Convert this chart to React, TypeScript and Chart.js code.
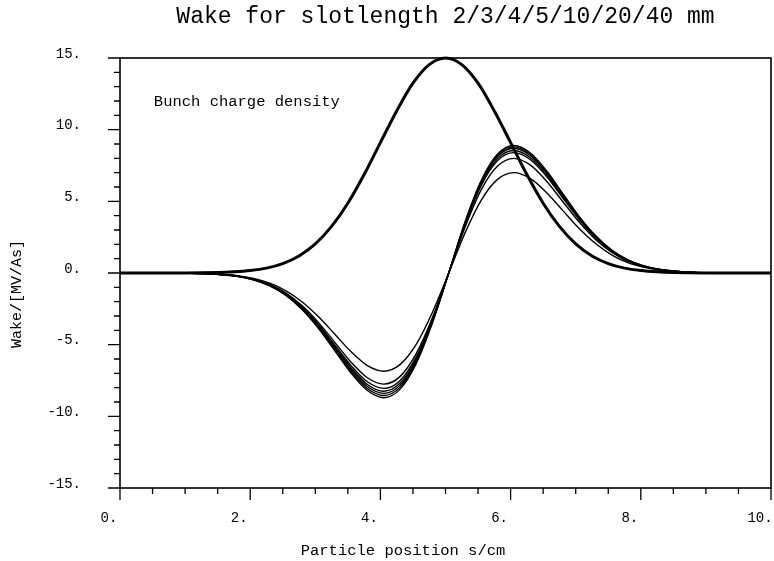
import { useEffect, useRef } from "react";
import { Chart, registerables } from "chart.js";

Chart.register(...registerables);

// ---------- data ----------
const titleText = "Wake for slotlength 2/3/4/5/10/20/40 mm";
const xAxisTitle = "Particle position s/cm";
const yAxisTitle = "Wake/[MV/As]";
const annotationText = "Bunch charge density";

const yTickLabelsEvery = 5;
const xTickLabelsEvery = 2;

// bunch charge density
const bunchS = [
  0, 0.5, 1.0, 1.5, 1.75, 2.0, 2.25, 2.5, 2.75, 3.0, 3.25, 3.5, 3.75, 4.0, 4.25, 4.5, 4.75, 5.0,
  5.25, 5.5, 5.75, 6.0, 6.25, 6.5, 6.75, 7.0, 7.25, 7.5, 7.75, 8.0, 8.25, 8.5, 9.0, 9.5, 10.0,
];
const bunchDensity = [
  0, 0, 0, 0.03, 0.08, 0.17, 0.34, 0.66, 1.19, 2.03, 3.25, 4.87, 6.87, 9.1, 11.3, 13.24, 14.54, 15.0,
  14.54, 13.24, 11.3, 9.1, 6.87, 4.87, 3.25, 2.03, 1.19, 0.66, 0.34, 0.17, 0.08, 0.03, 0, 0, 0,
];

// wake positions
const wakeS = [
  0, 0.5, 1.0, 1.3, 1.55, 1.8, 2.05, 2.3, 2.55, 2.8, 3.05, 3.3, 3.55, 3.8, 4.05, 4.3, 4.55, 4.8, 5.05,
  5.3, 5.55, 5.8, 6.05, 6.3, 6.55, 6.8, 7.05, 7.3, 7.55, 7.8, 8.05, 8.3, 8.55, 8.8, 9.05, 9.5, 10.0,
];
const wake40mm = [
  0, 0, -0.02, -0.04, -0.11, -0.23, -0.48, -0.9, -1.57, -2.57, -3.88, -5.43, -6.99, -8.2, -8.7, -8.12, -6.32, -3.48, 0,
  3.56, 6.47, 8.3, 8.9, 8.39, 7.15, 5.55, 3.97, 2.63, 1.61, 0.92, 0.49, 0.24, 0.12, 0.04, 0.02, 0, 0,
];
const wake20mm = [
  0, 0, -0.02, -0.04, -0.11, -0.23, -0.47, -0.88, -1.55, -2.52, -3.81, -5.34, -6.87, -8.06, -8.55, -7.98, -6.22, -3.42, 0,
  3.52, 6.4, 8.21, 8.8, 8.3, 7.07, 5.49, 3.92, 2.6, 1.59, 0.91, 0.48, 0.24, 0.11, 0.04, 0.02, 0, 0,
];
const wake10mm = [
  0, 0, -0.02, -0.04, -0.11, -0.23, -0.46, -0.87, -1.52, -2.48, -3.75, -5.24, -6.75, -7.92, -8.4, -7.84, -6.11, -3.36, 0,
  3.48, 6.32, 8.12, 8.7, 8.2, 6.99, 5.43, 3.88, 2.57, 1.57, 0.9, 0.48, 0.23, 0.11, 0.04, 0.02, 0, 0,
];
const wake5mm = [
  0, 0, -0.02, -0.04, -0.11, -0.22, -0.45, -0.85, -1.49, -2.43, -3.68, -5.15, -6.62, -7.78, -8.25, -7.7, -6.0, -3.3, 0,
  3.42, 6.22, 7.98, 8.55, 8.06, 6.87, 5.34, 3.81, 2.52, 1.55, 0.88, 0.47, 0.23, 0.11, 0.04, 0.02, 0, 0,
];
const wake4mm = [
  0, 0, -0.02, -0.04, -0.1, -0.22, -0.44, -0.83, -1.46, -2.37, -3.59, -5.02, -6.46, -7.59, -8.05, -7.51, -5.85, -3.22, 0,
  3.36, 6.11, 7.84, 8.4, 7.92, 6.75, 5.24, 3.75, 2.48, 1.52, 0.87, 0.46, 0.23, 0.11, 0.04, 0.02, 0, 0,
];
const wake3mm = [
  0, 0, -0.02, -0.04, -0.1, -0.21, -0.43, -0.8, -1.4, -2.29, -3.46, -4.84, -6.22, -7.31, -7.75, -7.23, -5.63, -3.1, 0,
  3.2, 5.82, 7.46, 8.0, 7.54, 6.42, 4.99, 3.57, 2.36, 1.45, 0.82, 0.44, 0.22, 0.1, 0.04, 0.02, 0, 0,
];
const wake2mm = [
  0, 0, -0.01, -0.03, -0.09, -0.18, -0.38, -0.71, -1.24, -2.02, -3.06, -4.27, -5.5, -6.46, -6.85, -6.39, -4.98, -2.74, 0,
  2.8, 5.09, 6.53, 7.0, 6.6, 5.62, 4.37, 3.12, 2.07, 1.27, 0.72, 0.39, 0.19, 0.09, 0.04, 0.01, 0, 0,
];

const wakeSeries: [string, number[]][] = [
  ["2 mm", wake2mm],
  ["3 mm", wake3mm],
  ["4 mm", wake4mm],
  ["5 mm", wake5mm],
  ["10 mm", wake10mm],
  ["20 mm", wake20mm],
  ["40 mm", wake40mm],
];

const MONO = "'Liberation Mono', 'Courier New', 'DejaVu Sans Mono', monospace";

const framePlugin = {
  id: "frameAndTexts",
  afterDraw(chart: any) {
    const { ctx, chartArea: a, scales } = chart;
    const xs = scales.x;
    const ys = scales.y;
    ctx.save();
    ctx.strokeStyle = "#000";
    ctx.lineWidth = 1.6;
    ctx.strokeRect(a.left, a.top, a.right - a.left, a.bottom - a.top);
    ctx.lineWidth = 1.3;
    ctx.beginPath();
    ys.ticks.forEach((t: any) => {
      const y = ys.getPixelForValue(t.value);
      const len = Math.abs(t.value % yTickLabelsEvery) < 1e-9 ? 12 : 6;
      ctx.moveTo(a.left - len, y);
      ctx.lineTo(a.left, y);
    });
    xs.ticks.forEach((t: any) => {
      const x = xs.getPixelForValue(t.value);
      const len = Math.abs(t.value % xTickLabelsEvery) < 1e-9 ? 12 : 6;
      ctx.moveTo(x, a.bottom);
      ctx.lineTo(x, a.bottom + len);
    });
    ctx.stroke();

    ctx.fillStyle = "#000";
    ctx.textBaseline = "middle";
    // annotation inside the plot
    ctx.font = `15.5px ${MONO}`;
    ctx.textAlign = "left";
    ctx.fillText(annotationText, xs.getPixelForValue(0.52), ys.getPixelForValue(11.95));
    // x axis title
    ctx.font = `15.5px ${MONO}`;
    ctx.textAlign = "center";
    ctx.fillText(xAxisTitle, 403, 551);
    // y axis title
    ctx.translate(17, 294);
    ctx.rotate(-Math.PI / 2);
    ctx.font = `15px ${MONO}`;
    ctx.textAlign = "center";
    ctx.fillText(yAxisTitle, 0, 0);
    ctx.restore();
  },
};

export default function App() {
  const ref = useRef<HTMLCanvasElement | null>(null);

  useEffect(() => {
    if (!ref.current) return;
    const datasets: any[] = [
      {
        label: "Bunch charge density",
        data: bunchS.map((s, i) => ({ x: s, y: bunchDensity[i] })),
        borderColor: "#000",
        borderWidth: 3,
        pointRadius: 0,
        cubicInterpolationMode: "monotone",
        clip: false,
      },
      ...wakeSeries.map(([name, vals]) => ({
        label: name,
        data: wakeS.map((s, i) => ({ x: s, y: vals[i] })),
        borderColor: "#000",
        borderWidth: 1.4,
        pointRadius: 0,
        cubicInterpolationMode: "monotone",
        clip: false,
      })),
    ];

    const chart = new Chart(ref.current, {
      type: "line",
      data: { datasets },
      plugins: [framePlugin],
      options: {
        animation: false,
        responsive: false,
        devicePixelRatio: 1,
        layout: { padding: { left: 0, right: 3, top: 0, bottom: 0 } },
        plugins: {
          legend: { display: false },
          tooltip: { enabled: false },
          title: {
            display: true,
            text: titleText,
            color: "#000",
            fullSize: false,
            font: { family: MONO, size: 23, weight: "normal" },
            padding: { top: 3, bottom: 27.4 },
          },
        },
        scales: {
          x: {
            type: "linear",
            min: 0,
            max: 10,
            grid: { display: false },
            border: { display: false },
            afterFit: (s: any) => {
              s.height = 73;
              s.paddingLeft = 0;
              s.paddingRight = 0;
            },
            ticks: {
              stepSize: 0.5,
              autoSkip: false,
              maxRotation: 0,
              color: "#000",
              padding: 13.6,
              labelOffset: -11,
              font: { family: MONO, size: 14 },
              callback: (v: any) => (Math.abs(Number(v) % xTickLabelsEvery) < 1e-9 ? `${v}.` : ""),
            },
          },
          y: {
            type: "linear",
            min: -15,
            max: 15,
            grid: { display: false },
            border: { display: false },
            afterFit: (s: any) => {
              s.width = 120;
              s.paddingTop = 0;
              s.paddingBottom = 0;
            },
            ticks: {
              stepSize: 1,
              autoSkip: false,
              color: "#000",
              padding: 31,
              labelOffset: -4,
              font: { family: MONO, size: 14 },
              callback: (v: any) => (Math.abs(Number(v) % yTickLabelsEvery) < 1e-9 ? `${v}.` : ""),
            },
          },
        },
      } as any,
    });
    return () => chart.destroy();
  }, []);

  return (
    <div style={{ position: "fixed", left: 0, top: 0, width: 774, height: 561, background: "#fff" }}>
      <canvas ref={ref} width={774} height={561} style={{ display: "block" }} />
    </div>
  );
}
